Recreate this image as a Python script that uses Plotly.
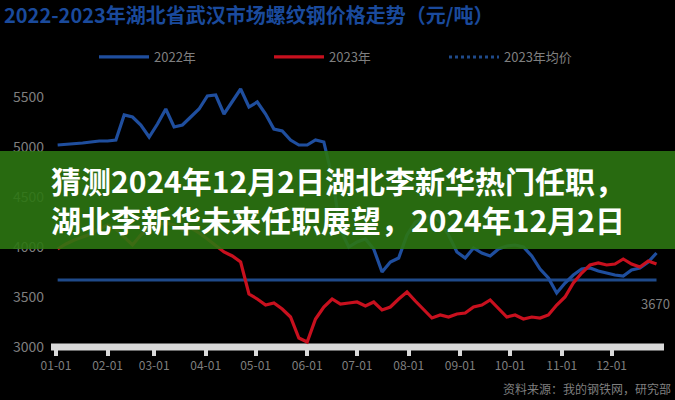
import pandas as pd
import plotly.graph_objects as go

# ---- data ----
dates = pd.date_range("2023-01-02", periods=73, freq="5D")
series_names = ["2022年", "2023年", "2023年均价"]
blue_vals = [5020, 5025, 5030, 5040, 5050, 5060, 5060, 5070, 5320, 5300,
             5220, 5100, 5230, 5380, 5200, 5220, 5300, 5380, 5510, 5520,
             5330, 5450, 5580, 5400, 5450, 5330, 5180, 5160, 5070, 5020,
             5020, 5070, 5050, 4700, 4170, 4000, 4050, 4080, 3980, 3750,
             3850, 3890, 4120, 4250, 4290, 4320, 4250, 4120, 3950, 3890,
             3990, 3940, 3910, 3980, 4010, 4020, 4000, 3910, 3780, 3690,
             3540, 3640, 3720, 3780, 3790, 3760, 3740, 3720, 3710, 3770,
             3790, 3850, 3940]
red_vals = [3980, 4030, 4070, 4100, 4130, 4180, 4220, 4180, 4100, 4020,
            4120, 4190, 4220, 4240, 4220, 4170, 4190, 4140, 4080, 4010,
            3950, 3910, 3850, 3530, 3480, 3420, 3440, 3380, 3300, 3090,
            3050, 3280, 3400, 3480, 3430, 3440, 3450, 3410, 3450, 3370,
            3400, 3480, 3550, 3460, 3370, 3290, 3320, 3300, 3330, 3340,
            3400, 3420, 3470, 3380, 3300, 3320, 3280, 3300, 3290, 3320,
            3420, 3500, 3640, 3740, 3820, 3840, 3820, 3830, 3880, 3830,
            3800, 3860, 3830]
avg_value = 3670
avg_vals = [avg_value] * len(dates)
month_ticks = ["2023-%02d-01" % m for m in range(1, 13)]
month_labels = ["%02d-01" % m for m in range(1, 13)]
y_ticks = [3000, 3500, 4000, 4500, 5000, 5500]
banner_lines = ["猜测2024年12月2日湖北李新华热门任职，",
                "湖北李新华未来任职展望，2024年12月2日"]

BLUE = "#1f4e9e"
RED = "#c8101e"
AVG = "#1f4a8a"
GREY = "#7f7f7f"
AXIS = "#d9d9d9"

fig = go.Figure()
fig.add_trace(go.Scatter(x=dates, y=avg_vals, mode="lines", showlegend=False,
                         line=dict(color=AVG, width=3)))
fig.add_trace(go.Scatter(x=dates, y=blue_vals, mode="lines", name=series_names[0],
                         line=dict(color=BLUE, width=3.2)))
fig.add_trace(go.Scatter(x=dates, y=red_vals, mode="lines", name=series_names[1],
                         line=dict(color=RED, width=3.2)))
fig.add_trace(go.Scatter(x=[None], y=[None], mode="lines", name=series_names[2],
                         line=dict(color=AVG, width=3, dash="dot")))

W, H = 675, 400
L, R, T, B = 51, 11, 88, 53
pw, ph = W - L - R, H - T - B

def px_x(p):
    return (p - L) / pw

def px_y(p):
    return (H - B - p) / ph

fig.update_layout(
    width=W, height=H,
    margin=dict(l=L, r=R, t=T, b=B),
    paper_bgcolor="black", plot_bgcolor="black",
    font=dict(family="Noto Sans CJK SC, Liberation Sans, sans-serif", color=GREY),
    title=dict(text="<b>2022-2023年湖北省武汉市场螺纹钢价格走势（元/吨）</b>",
               font=dict(size=20, color="#1a4a9c"),
               xref="container", x=4 / W, xanchor="left",
               yref="container", y=1 - 16 / H, yanchor="middle"),
    legend=dict(orientation="h", xref="container", x=94 / W, xanchor="left",
                yref="container", y=1 - 42 / H, yanchor="top",
                font=dict(size=13, color=GREY), bgcolor="rgba(0,0,0,0)",
                entrywidth=110, entrywidthmode="pixels", itemwidth=50),
    xaxis=dict(type="date", range=["2022-12-29", "2024-01-01 12:00"],
               tickvals=month_ticks, ticktext=month_labels,
               tickfont=dict(size=12, color=GREY),
               showgrid=False, zeroline=False, showline=False,
               ticks="outside", ticklen=8, tickwidth=4, tickcolor=AXIS),
    yaxis=dict(range=[3000, 3000 + ph * 10], tickvals=y_ticks,
               tickfont=dict(size=14, color=GREY),
               showgrid=False, zeroline=False, showline=False, ticks="",
               ticklabelstandoff=6),
)

# thick light axis bar along the bottom of the plot
fig.add_shape(type="line", xref="paper", yref="paper", x0=0, x1=1, y0=0, y1=0,
              line=dict(color=AXIS, width=7), layer="below")

# green banner overlay
fig.add_shape(type="rect", xref="paper", yref="paper",
              x0=px_x(0), x1=px_x(W), y0=px_y(249), y1=px_y(151),
              fillcolor="rgba(44,118,18,0.90)", line=dict(width=0), layer="above")
fig.add_annotation(text="<b>%s</b>" % "<br>".join(banner_lines),
                   xref="paper", yref="paper",
                   x=px_x(338), y=px_y(199), showarrow=False,
                   xanchor="center", yanchor="middle", align="center",
                   font=dict(size=30, color="white", family="Noto Sans CJK SC"))

fig.add_annotation(text=str(avg_value), xref="paper", yref="paper",
                   x=px_x(672), y=px_y(303), xanchor="right", yanchor="middle",
                   showarrow=False, font=dict(size=13, color=GREY))
fig.add_annotation(text="资料来源：我的钢铁网，研究部", xref="paper", yref="paper",
                   x=px_x(673), y=px_y(388), xanchor="right", yanchor="middle",
                   showarrow=False, font=dict(size=12, color=GREY))

fig.write_html("out.html", config={"displayModeBar": False},
               post_script="document.body.style.margin='0px';")
